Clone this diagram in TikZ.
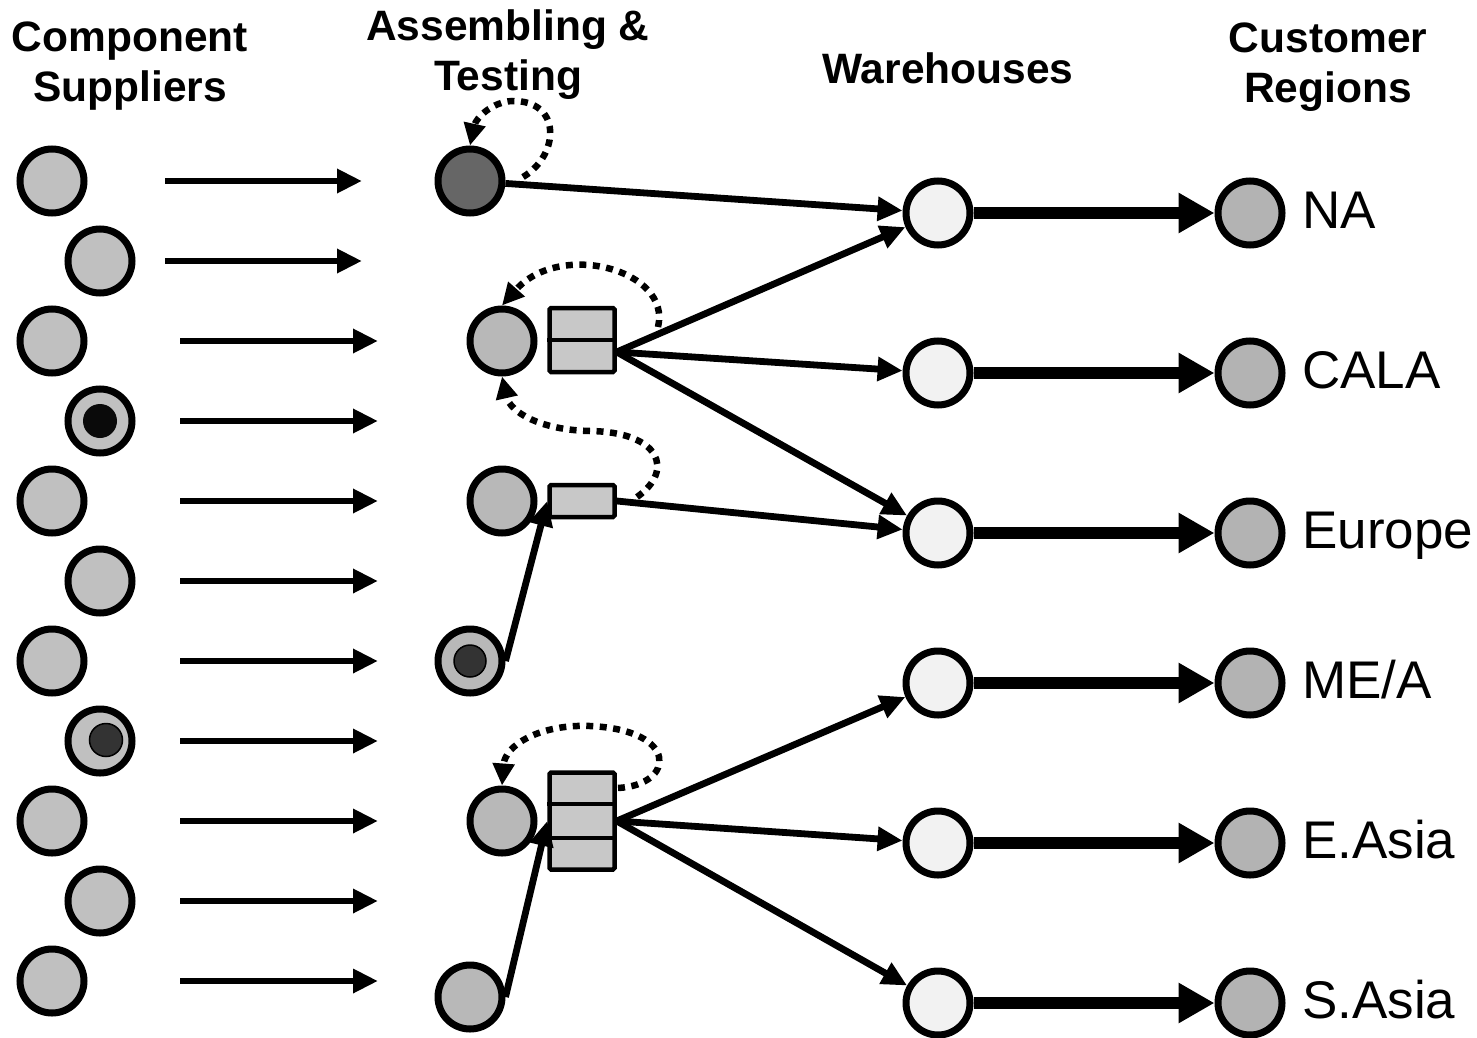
\documentclass[tikz,border=0pt]{standalone}
\usepackage{fontspec}
\setmainfont{Liberation Sans}
\usetikzlibrary{arrows.meta,calc}

\definecolor{supfill}{HTML}{C0C0C0}
\definecolor{asmfill}{HTML}{B8B8B8}
\definecolor{hubfill}{HTML}{666666}
\definecolor{buffill}{HTML}{C8C8C8}
\definecolor{whfill}{HTML}{F2F2F2}
\definecolor{custfill}{HTML}{B3B3B3}
\definecolor{corefill}{HTML}{333333}
\definecolor{blackcore}{HTML}{0A0A0A}

\begin{document}
\begin{tikzpicture}[x=1pt,y=-1pt,
  sup/.style={circle, draw, line width=7pt, fill=supfill, minimum size=64pt, inner sep=0pt},
  asm/.style={sup, fill=asmfill},
  hub/.style={sup, fill=hubfill},
  wh/.style={sup, fill=whfill},
  cust/.style={sup, fill=custfill},
  core/.style={circle, draw, line width=1.5pt, fill=corefill, minimum size=32pt, inner sep=0pt},
  buf/.style={rectangle, draw, line width=4.5pt, fill=buffill, rounded corners=1.5pt,
    minimum width=65pt, inner sep=0pt},
  flow/.style={line width=6.8pt, -{Triangle[length=25pt,width=23pt]}},
  ship/.style={line width=12.5pt, -{Triangle[length=36pt,width=38pt]}},
  rework/.style={line width=6.5pt, dash pattern=on 7pt off 6.5pt, -{Triangle[length=22pt,width=21pt]}},
  head/.style={font=\bfseries\fontsize{42.5}{50}\selectfont, align=center},
  reg/.style={font=\fontsize{53}{60}\selectfont, anchor=base west, inner sep=0pt}
]
\useasboundingbox (0,0) rectangle (1477,1038);

% column headings
\node[head] (hsup)  at (130,66)  {Component\\Suppliers};
\node[head] (hasm)  at (508,55)  {Assembling \&\\Testing};
\node[head] (hwh)   at (948,68)  {Warehouses};
\node[head] (hcust) at (1328,67) {Customer\\Regions};

% component suppliers, staggered in two columns
\foreach \i/\x in {1/52,2/100,3/52,4/100,5/52,6/100,7/52,8/100,9/52,10/100,11/52}
  \node[sup] (s\i) at (\x,{101+80*\i}) {};
\node[circle, fill=blackcore, minimum size=34pt, inner sep=0pt] (s4c) at (s4) {};
\node[core, minimum size=33pt] (s8c) at (106,740) {};

% supply flows into assembly
\foreach \i in {1,2} {
  \coordinate (fa\i) at (165,{101+80*\i});
  \coordinate (fb\i) at (362,{101+80*\i});
  \draw[flow] (fa\i) -- (fb\i);
}
\foreach \i in {3,...,11} {
  \coordinate (fa\i) at (180,{101+80*\i});
  \coordinate (fb\i) at (378,{101+80*\i});
  \draw[flow] (fa\i) -- (fb\i);
}

% assembling & testing sites and their buffers
\node[hub] (a1) at (470,181) {};
\node[asm] (a2) at (502,341) {};
\node[buf, minimum height=64pt] (q2) at (582,340) {};
\draw[line width=4.5pt] (q2.west) -- (q2.east);
\node[asm] (a3) at (502,501) {};
\node[buf, minimum height=32pt] (q3) at (582,501) {};
\node[asm] (a4) at (470,661) {};
\node[core] (a4c) at (a4) {};
\node[asm] (a5) at (502,821) {};
\node[buf, minimum height=97pt] (q5) at (582,821) {};
\draw[line width=4.5pt] ($(q5.north west)!1/3!(q5.south west)$) -- ($(q5.north east)!1/3!(q5.south east)$);
\draw[line width=4.5pt] ($(q5.north west)!2/3!(q5.south west)$) -- ($(q5.north east)!2/3!(q5.south east)$);
\node[asm] (a6) at (470,997) {};

% warehouses and customer regions
\foreach \i/\y in {1/213,2/373,3/533,4/683,5/843,6/1003} {
  \node[wh] (w\i) at (938,\y) {};
  \node[cust] (c\i) at (1250,\y) {};
  \draw[ship] (w\i) -- (c\i);
}
\node[reg] (lna)   at (1302,228)  {NA};
\node[reg] (lcala) at (1302,388)  {CALA};
\node[reg] (leur)  at (1302,548)  {Europe};
\node[reg] (lmea)  at (1302,698)  {ME/A};
\node[reg] (least) at (1302,858)  {E.Asia};
\node[reg] (lsou)  at (1302,1018) {S.Asia};

% sub-assemblies feeding the buffers
\draw[flow] (a4.east) -- (q3.west);
\draw[flow] (a6.east) -- (q5.west);

% distribution to warehouses
\draw[flow] (a1) -- (w1);
\draw[flow] ([yshift=-12pt]q2.east) -- (w1);
\draw[flow] ([yshift=-12pt]q2.east) -- (w2);
\draw[flow] ([yshift=-12pt]q2.east) -- (w3);
\draw[flow] (q3.east) -- (w3);
\draw[flow] (q5.east) -- (w4);
\draw[flow] (q5.east) -- (w5);
\draw[flow] (q5.east) -- (w6);

% rework loops
\coordinate (r1) at (523,177);
\coordinate (r2) at (658,327);
\coordinate (r3) at (637,497);
\coordinate (r4) at (618,788);
\draw[rework] (r1) .. controls (560,155) and (562,100) .. (512,101)
              .. controls (492,102) and (476,118) .. (a1.north);
\draw[rework] (r2) .. controls (672,270) and (560,240) .. (a2.north);
\draw[rework] (r3) .. controls (675,470) and (660,432) .. (590,431)
              .. controls (540,430) and (510,412) .. (a2.south);
\draw[rework] (r4) .. controls (675,785) and (680,730) .. (590,726)
              .. controls (540,724) and (505,745) .. (a5.north);
\end{tikzpicture}
\end{document}
